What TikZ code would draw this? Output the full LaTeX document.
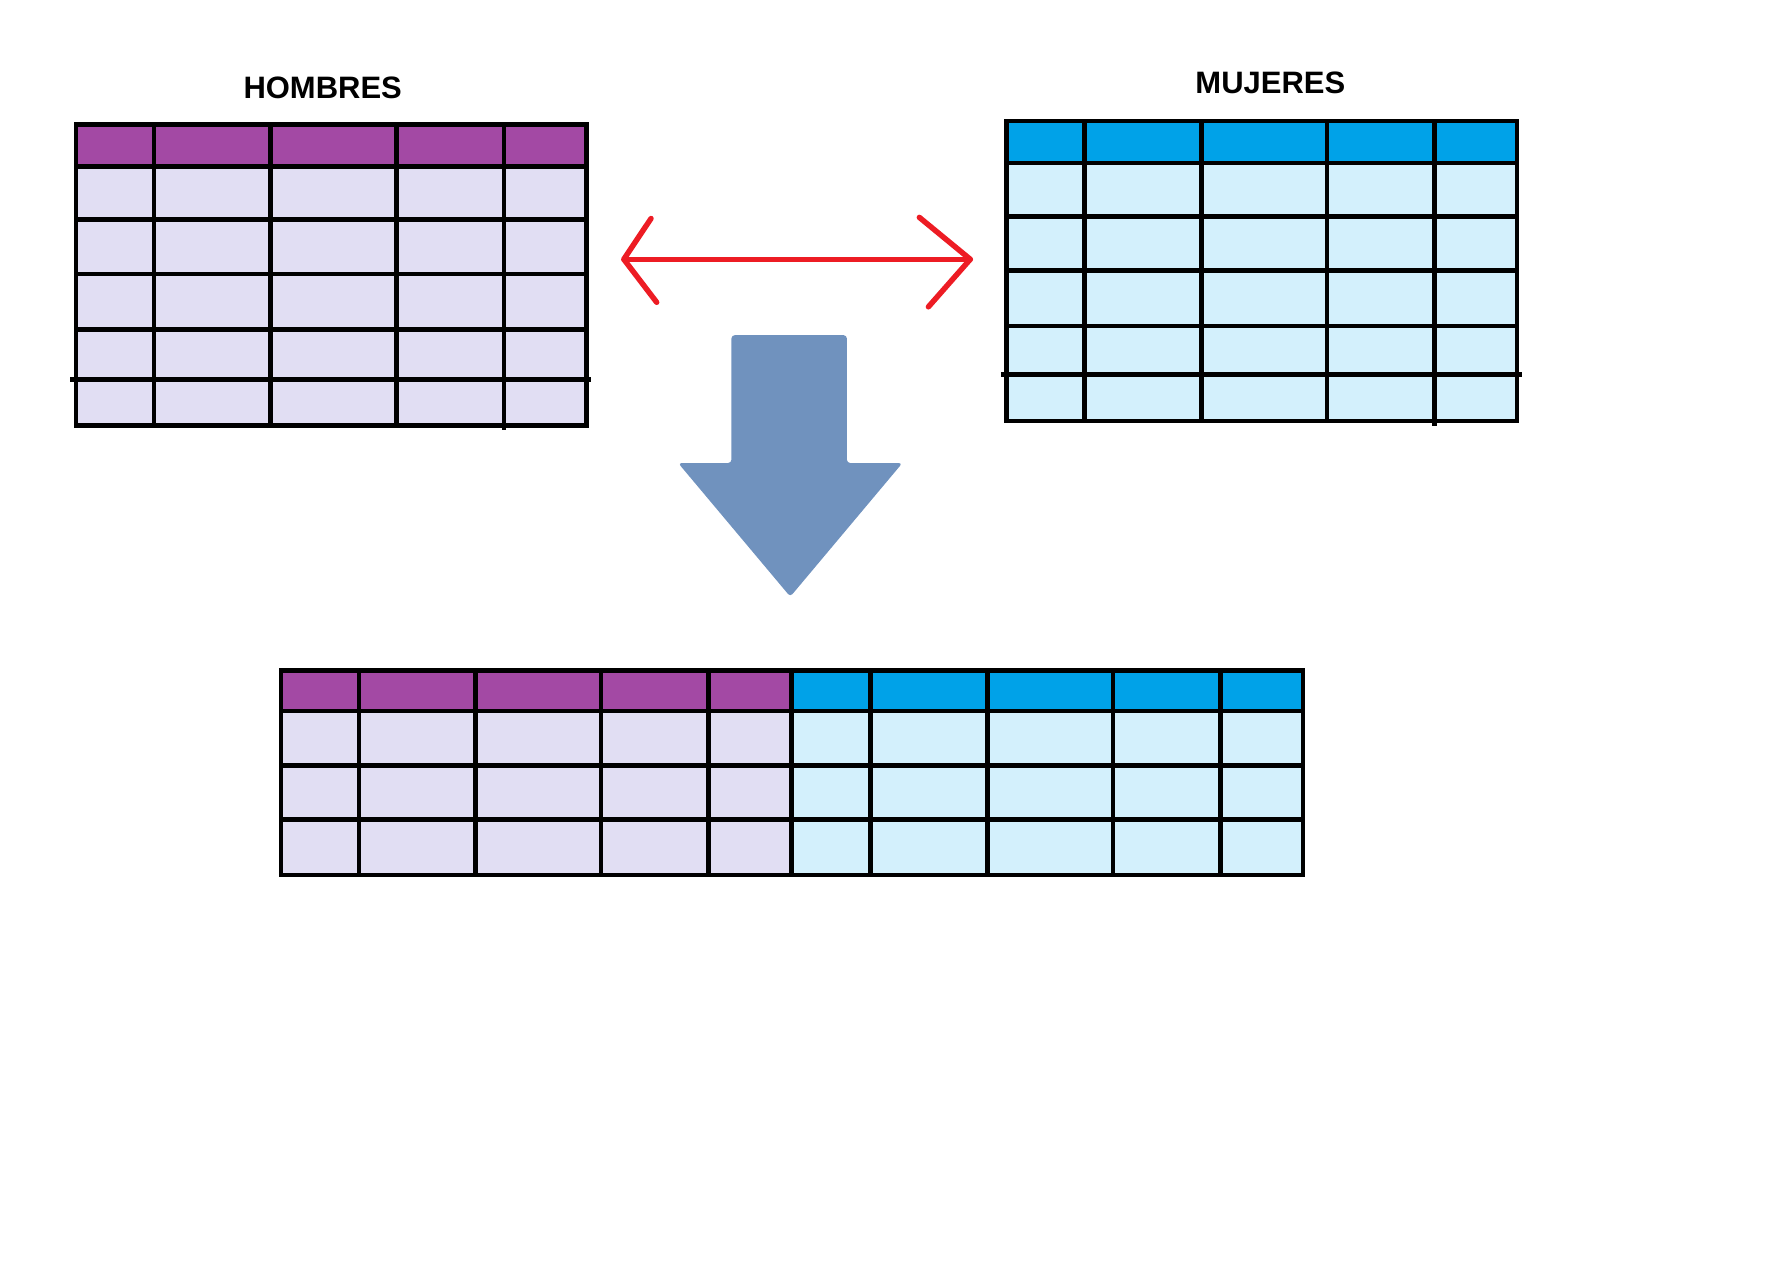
\documentclass[tikz,border=0pt]{standalone}
\usepackage{fontspec}
\setmainfont{Liberation Sans}
\definecolor{hpurple}{HTML}{A349A4}
\definecolor{lpurple}{HTML}{E1DEF3}
\definecolor{hblue}{HTML}{00A2E8}
\definecolor{lblue}{HTML}{D3F0FC}
\definecolor{pred}{HTML}{ED1C24}
\definecolor{parrow}{HTML}{7092BE}
\tikzset{
  gridline/.style={draw=black, line width=2pt},
  title/.style={font=\bfseries\fontsize{13.6}{16}\selectfont, inner sep=0pt, anchor=base},
  redarrow/.style={draw=pred, line width=2.4pt, line cap=round, line join=round},
  bigarrow/.style={fill=parrow, rounded corners=1.5pt}
}
\begin{document}
\begin{tikzpicture}[x=0.5pt, y=-0.5pt]
\useasboundingbox (0,0) rectangle (1560,1125);
\begin{scope}[scale=0.9945]
% titles
\node[title] (hombres) at (285,87) {HOMBRES};
\node[title] (mujeres) at (1122,83) {MUJERES};
% HOMBRES table
\fill[hpurple] (67,110) rectangle (518,147);
\fill[lpurple] (67,147) rectangle (518,376);
\foreach \x in {136,239,350} \draw[gridline] (\x,110) -- (\x,376);
\draw[gridline] (445,110) -- (445,380);
\foreach \y in {147,194,242,291} \draw[gridline] (67,\y) -- (518,\y);
\draw[gridline] (62,335) -- (522,335);
\draw[gridline] (67,110) rectangle (518,376);
% MUJERES table
\fill[hblue] (889,107) rectangle (1340,144);
\fill[lblue] (889,144) rectangle (1340,372);
\foreach \x in {958,1061,1172} \draw[gridline] (\x,107) -- (\x,372);
\draw[gridline] (1267,107) -- (1267,376);
\foreach \y in {144,191,239,288} \draw[gridline] (889,\y) -- (1340,\y);
\draw[gridline] (884,331) -- (1344,331);
\draw[gridline] (889,107) rectangle (1340,372);
% red double arrow
\coordinate (la) at (551,229);
\coordinate (ra) at (857,229);
\draw[redarrow] (la) -- (ra);
\draw[redarrow] (575,193) -- (la) -- (580,267);
\draw[redarrow] (812,192) -- (ra) -- (820,271);
% big blue arrow
\fill[bigarrow] (646,296) -- (748,296) -- (748,409) -- (797,409) -- (698,527) -- (599,409) -- (646,409) -- cycle;
% merged table
\fill[hpurple] (248,592) rectangle (699,628);
\fill[hblue] (699,592) rectangle (1151,628);
\fill[lpurple] (248,628) rectangle (699,773);
\fill[lblue] (699,628) rectangle (1151,773);
\foreach \x in {317,420,531,626,769,872,983,1078} \draw[gridline] (\x,592) -- (\x,775);
\draw[gridline, line width=2.4pt] (699,592) -- (699,775);
\foreach \y in {628,676,724} \draw[gridline] (248,\y) -- (1151,\y);
\draw[gridline] (248,592) rectangle (1151,773);
\end{scope}
\end{tikzpicture}
\end{document}
